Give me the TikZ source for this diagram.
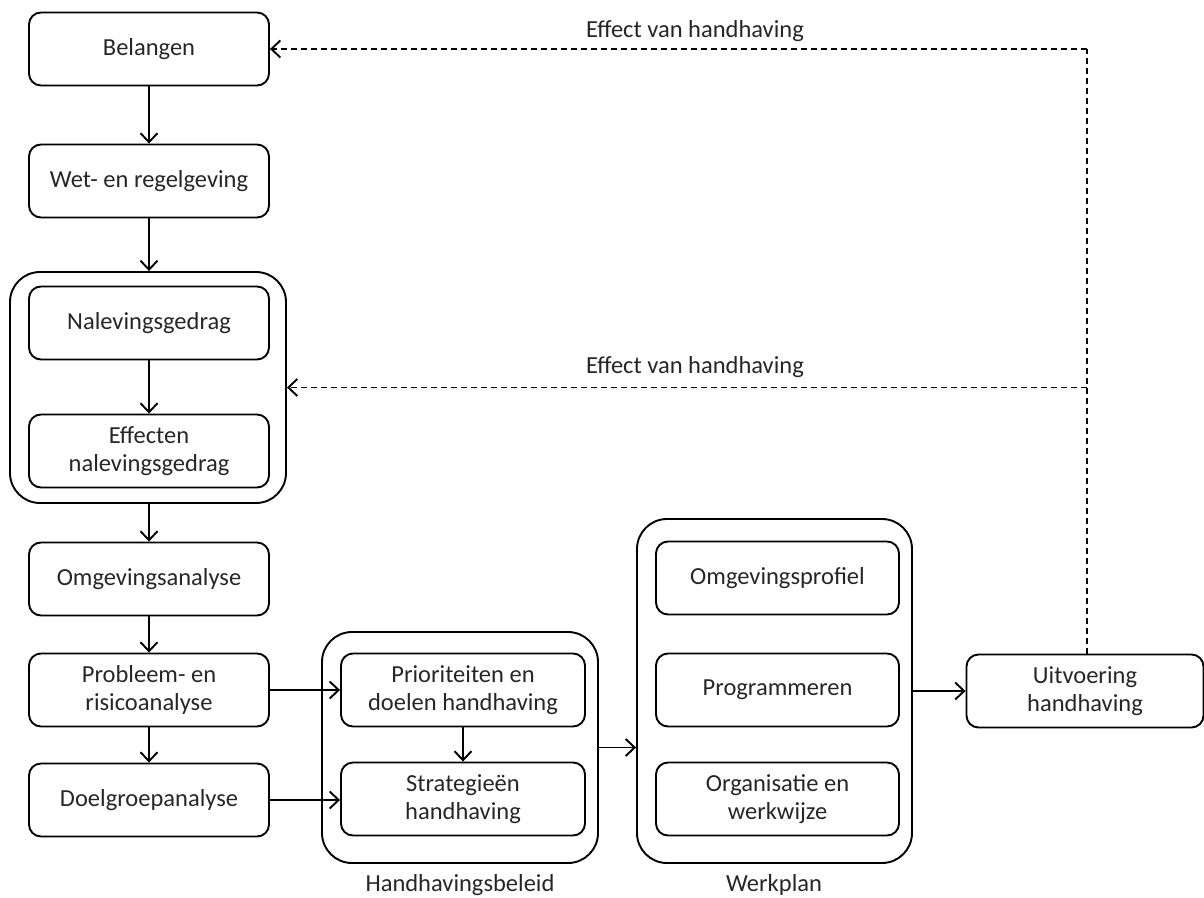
\documentclass[tikz,border=0pt]{standalone}
\usepackage{fontspec}
\setmainfont{Carlito}
\usetikzlibrary{arrows.meta}
\begin{document}
\begin{tikzpicture}[x=1pt,y=-1pt,
  every node/.style={font=\fontsize{24.5}{28}\selectfont, text=black!85},
  box/.style={draw, line width=1.9pt, rounded corners=12pt, align=center, minimum height=73pt, inner sep=0pt},
  lbox/.style={box, minimum width=240pt},
  grp/.style={draw, line width=1.9pt, rounded corners=30pt, inner sep=0pt},
  arr/.style={line width=1.9pt, -{Straight Barb[length=9pt,width=17pt,line width=1.9pt]}},
  darr/.style={arr, dash pattern=on 6pt off 4pt},
  dline/.style={line width=1.9pt, dash pattern=on 6pt off 4pt}
]
\useasboundingbox (0,0) rectangle (1204,897);
% left column
\node[lbox] (bel) at (149,49) {Belangen};
\node[lbox] (wet) at (149,181) {Wet- en regelgeving};
\node[grp, minimum width=276pt, minimum height=231pt] (g1) at (148,387.5) {};
\node[lbox] (nal) at (149,323) {Nalevingsgedrag};
\node[lbox] (eff) at (149,451) {Effecten\\nalevingsgedrag};
\node[lbox] (omg) at (149,579) {Omgevingsanalyse};
\node[lbox] (prob) at (149,690) {Probleem- en\\risicoanalyse};
\node[lbox] (doel) at (149,800) {Doelgroepanalyse};
% handhavingsbeleid
\node[grp, minimum width=276pt, minimum height=231pt] (g2) at (460,747.5) {};
\node[box, minimum width=244pt] (prio) at (463,690) {Prioriteiten en\\doelen handhaving};
\node[box, minimum width=244pt] (strat) at (463,799) {Strategieën\\handhaving};
\node (lg2) at (460,885) {Handhavingsbeleid};
% werkplan
\node[grp, minimum width=275pt, minimum height=344pt] (g3) at (774.5,691) {};
\node[box, minimum width=243pt] (omgp) at (777.5,578) {Omgevingsprofiel};
\node[box, minimum width=243pt] (prog) at (777.5,690) {Programmeren};
\node[box, minimum width=243pt] (org) at (777.5,799) {Organisatie en\\werkwijze};
\node (lg3) at (774,885) {Werkplan};
% uitvoering
\node[box, minimum width=237pt] (uit) at (1085,691) {Uitvoering\\handhaving};
% arrows
\draw[arr] (bel) -- (wet);
\draw[arr] (wet.south) -- (wet.south |- g1.north);
\draw[arr] (nal) -- (eff);
\draw[arr] (g1.south -| omg.north) -- (omg.north);
\draw[arr] (omg) -- (prob);
\draw[arr] (prob) -- (doel);
\draw[arr] (prob.east) -- (prio.west);
\draw[arr] (doel.east) -- (doel.east -| strat.west);
\draw[arr] (prio) -- (strat);
\draw[arr] (g2.east) -- (g2.east -| g3.west);
\draw[arr] (uit.west -| g3.east) -- (uit.west);
% feedback
\coordinate (c1) at (1087,49);
\coordinate (c2) at (1087,387.5);
\draw[dline] (uit.north -| c1) -- (c1);
\draw[darr] (c1) -- (bel.east);
\draw[darr] (c2) -- (g1.east);
\node (e1) at (695,31) {Effect van handhaving};
\node (e2) at (695,367) {Effect van handhaving};
\end{tikzpicture}
\end{document}
